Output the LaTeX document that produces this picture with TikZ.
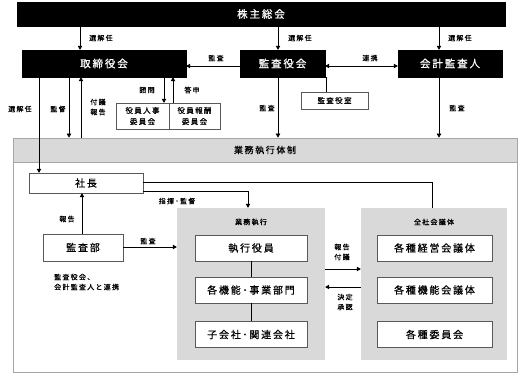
\documentclass[tikz,border=0pt]{standalone}
\usepackage{fontspec}
\setmainfont{Noto Sans CJK JP}[FakeBold=0.7,LetterSpace=18]
\usetikzlibrary{arrows.meta}
\definecolor{frameg}{HTML}{A6A6A6}
\definecolor{fillg}{HTML}{D9D9D9}
\definecolor{boxline}{HTML}{595959}
\tikzset{
  blackbox/.style={draw=black,fill=black,text=white,inner sep=0pt,font=\fontsize{10.5}{12}\selectfont},
  whitebox/.style={draw=boxline,fill=white,inner sep=0pt,font=\fontsize{10}{12}\selectfont},
  smallbox/.style={draw=boxline,fill=white,inner sep=0pt,font=\fontsize{7.5}{11}\selectfont,align=center},
  graybox/.style={draw=none,fill=fillg,inner sep=0pt},
  lbl/.style={inner sep=0pt,font=\fontsize{7}{10}\selectfont,align=center},
  arr/.style={-{Triangle[length=4pt,width=4.5pt]},line width=0.6pt},
  ln/.style={line width=0.6pt},
}
\begin{document}
\begin{tikzpicture}[x=1pt,y=-1pt]
\useasboundingbox (0,0) rectangle (522,373);
% top
\node[blackbox,minimum width=488,minimum height=24] (top) at (261,14) {株主総会};
\node[blackbox,minimum width=164,minimum height=27] (tori) at (104,63.5) {取締役会};
\node[blackbox,minimum width=85,minimum height=27] (kansa) at (282.5,63.5) {監査役会};
\node[blackbox,minimum width=104,minimum height=27] (kaikei) at (450,63.5) {会計監査人};
\node[smallbox,minimum width=67,minimum height=17] (shitsu) at (334.5,100.5) {監査役室};
\node[smallbox,minimum width=53,minimum height=26] (jinji) at (142.5,116) {役員人事\\委員会};
\node[smallbox,minimum width=51,minimum height=26] (hoshu) at (194.5,116) {役員報酬\\委員会};
% frame
\node[draw=frameg,line width=0.8pt,minimum width=504,minimum height=234,inner sep=0pt] (frame) at (265,255) {};
\node[draw=frameg,line width=0.8pt,fill=fillg,minimum width=504,minimum height=24,inner sep=0pt,font=\fontsize{9}{11}\selectfont] (header) at (265,150) {業務執行体制};
% inside
\node[whitebox,minimum width=114,minimum height=20] (shacho) at (86,183) {社長};
\node[whitebox,minimum width=80,minimum height=27] (kansabu) at (83,247.5) {監査部};
\node[lbl,anchor=west,align=left] (renkei) at (54,282) {監査役会、\\会計監査人と連携};
\node[graybox,minimum width=148,minimum height=152] (gyomu) at (251,284) {};
\node[graybox,minimum width=146,minimum height=152] (zensha) at (434,284) {};
\node[lbl] (gyomut) at (251,222) {業務執行};
\node[lbl] (zensht) at (434,222) {全社会議体};
\node[whitebox,minimum width=112,minimum height=26] (shikko) at (251,248) {執行役員};
\node[whitebox,minimum width=112,minimum height=26] (kino) at (251,290) {各機能･事業部門};
\node[whitebox,minimum width=112,minimum height=26] (kogai) at (251,334.5) {子会社･関連会社};
\node[whitebox,minimum width=115,minimum height=26] (keiei) at (434.5,248) {各種経営会議体};
\node[whitebox,minimum width=115,minimum height=26] (kinok) at (434.5,290) {各種機能会議体};
\node[whitebox,minimum width=115,minimum height=26] (iin) at (434.5,334.5) {各種委員会};
% arrows from top
\draw[arr] (80,0 |- top.south) -- (80,0 |- tori.north);
\draw[arr] (278,0 |- top.south) -- (278,0 |- kansa.north);
\draw[arr] (439,0 |- top.south) -- (439,0 |- kaikei.north);
\node[lbl,anchor=west] (l1) at (89,38) {選解任};
\node[lbl,anchor=west] (l2) at (288,38) {選解任};
\node[lbl,anchor=west] (l3) at (448,38) {選解任};
% kansa to tori
\draw[arr] (kansa.west |- 0,66) -- (tori.east |- 0,66);
\node[lbl] (l4) at (216,58) {監査};
\draw[arr,{Triangle[length=4pt,width=4.5pt]}-{Triangle[length=4pt,width=4.5pt]}] (kansa.east |- 0,66) -- (kaikei.west |- 0,66);
\node[lbl] (l5) at (370,58) {連携};
\draw[ln] (326,0 |- kansa.south) -- (326,0 |- shitsu.north);
% committees
\draw[arr] (164,0 |- tori.south) -- (164,0 |- jinji.north);
\draw[arr] (173,0 |- hoshu.north) -- (173,0 |- tori.south);
\node[lbl] (l6) at (147,90) {諮問};
\node[lbl] (l7) at (192,90) {答申};
% downwards from tori
\draw[arr] (39,0 |- tori.south) -- (39,0 |- shacho.north);
\draw[arr] (69,0 |- tori.south) -- (69,0 |- header.north);
\draw[arr] (81,0 |- header.north) -- (81,0 |- tori.south);
\node[lbl] (l8) at (20,109) {選解任};
\node[lbl] (l9) at (58,109) {監督};
\node[lbl] (l10) at (98,107) {付議\\報告};
\draw[arr] (278,0 |- kansa.south) -- (278,0 |- header.north);
\draw[arr] (439,0 |- kaikei.south) -- (439,0 |- header.north);
\node[lbl] (l11) at (267,108) {監査};
\node[lbl] (l12) at (457,108) {監査};
% shacho
\draw[ln] (shacho.east |- 0,182) -| (432,0 |- zensha.north);
\draw[arr] (shacho.east |- 0,191) -| (248,0 |- gyomu.north);
\node[lbl] (l13) at (177,201) {指揮･監督};
\draw[arr] (82,0 |- kansabu.north) -- (82,0 |- shacho.south);
\node[lbl] (l14) at (67,219) {報告};
\draw[arr] (kansabu.east |- 0,247) -- (gyomu.west |- 0,247);
\node[lbl] (l15) at (148,241) {監査};
% inner
\draw[ln] (shikko.south) -- (kino.north);
\draw[ln] (kino.south) -- (kogai.north);
\draw[arr] (gyomu.east |- 0,269) -- (zensha.west |- 0,269);
\draw[arr] (zensha.west |- 0,287) -- (gyomu.east |- 0,287);
\node[lbl] (l16) at (342,252) {報告\\付議};
\node[lbl] (l17) at (345,302) {決定\\承認};
\end{tikzpicture}
\end{document}
